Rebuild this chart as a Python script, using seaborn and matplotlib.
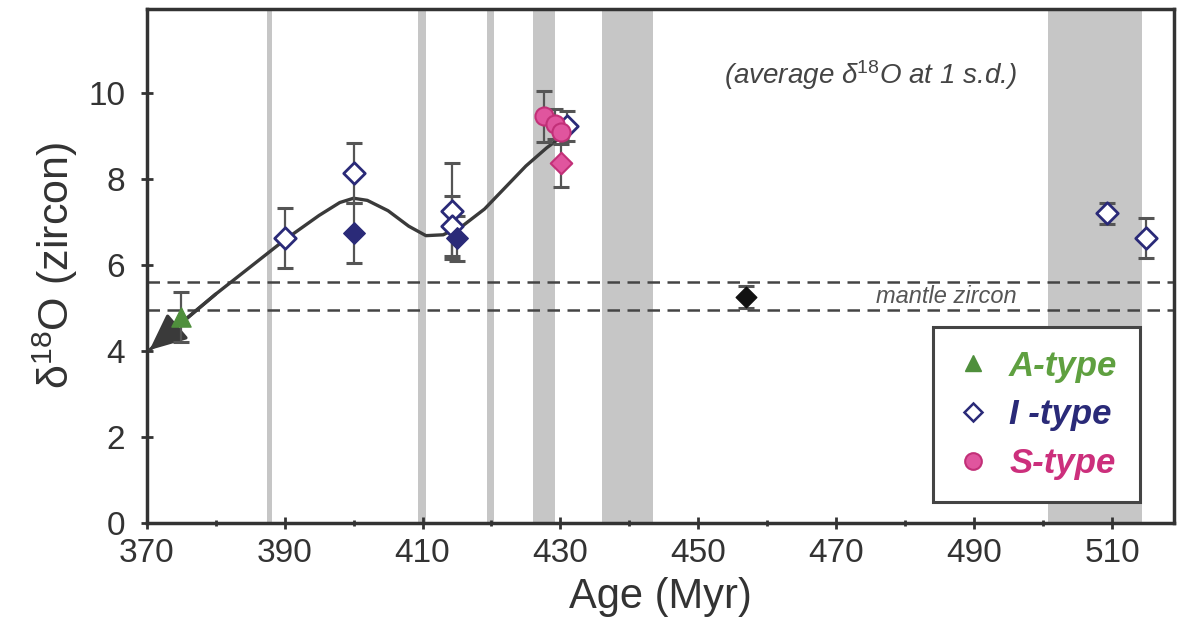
import matplotlib
matplotlib.use("Agg")
import matplotlib.pyplot as plt
from matplotlib.lines import Line2D
import seaborn as sns
import pandas as pd

# ---------------- data ----------------
# shaded age intervals (Myr)
band_start = [387.4, 409.4, 419.3, 426.0, 436.0, 500.7]
band_end = [388.1, 410.5, 420.4, 429.2, 443.4, 514.3]

# mantle zircon range
mantle_lo = 4.95
mantle_hi = 5.6

# trend curve (tip first)
trend_age = [370.4, 373, 375.5, 380, 385, 390, 395, 398, 400, 402, 405, 408,
             410.5, 413, 416, 419, 422, 425, 428, 429.5]
trend_d18o = [4.02, 4.38, 4.72, 5.32, 5.95, 6.58, 7.15, 7.45, 7.55, 7.50,
              7.26, 6.90, 6.68, 6.70, 6.93, 7.30, 7.80, 8.30, 8.72, 8.90]

# A-type
a_age = [375.0]
a_d18o = [4.78]
a_err = [0.58]

# I-type, open diamonds
i_open_age = [390.0, 400.0, 414.3, 414.3, 431.0, 509.3, 515.0]
i_open_d18o = [6.62, 8.13, 7.25, 6.90, 9.22, 7.20, 6.63]
i_open_err = [0.70, 0.70, 1.11, 0.70, 0.35, 0.25, 0.47]

# I-type, filled diamonds
i_fill_age = [400.0, 415.0]
i_fill_d18o = [6.75, 6.62]
i_fill_err = [0.70, 0.52]

# black diamond
k_age = [456.9]
k_d18o = [5.25]
k_err = [0.25]

# S-type
s_circ_age = [427.6, 429.2, 430.1]
s_circ_d18o = [9.45, 9.28, 9.10]
s_circ_err = [0.60, 0.35, 0.30]
s_dia_age = [430.1]
s_dia_d18o = [8.37]
s_dia_err = [0.55]

legend_labels = ["A-type", "I -type", "S-type"]

# ---------------- style ----------------
sns.set_theme(style="white")
plt.rcParams["font.family"] = ["Liberation Sans", "DejaVu Sans"]
plt.rcParams["mathtext.fontset"] = "custom"
plt.rcParams["mathtext.rm"] = "Liberation Sans"
plt.rcParams["mathtext.it"] = "Liberation Sans:italic"

GREEN = "#4f8f3c"
GREEN_TXT = "#5fa040"
NAVY = "#2a2a78"
PINK = "#e0559e"
PINK_E = "#c23078"
PINK_TXT = "#cc2f7c"
DARK = "#3a3a3a"
BAND = "#c6c6c6"
ERR = "#555555"

fig = plt.figure(figsize=(11.87, 6.39), dpi=100)
ax = fig.add_axes([0.1236, 0.1815, 0.8655, 0.8045])

for s, e in zip(band_start, band_end):
    ax.axvspan(s, e, color=BAND, lw=0, zorder=0)

for yv in (mantle_lo, mantle_hi):
    ax.axhline(yv, color="#444444", lw=1.8, ls=(0, (5, 3)), zorder=1)
ax.text(486, (mantle_lo + mantle_hi) / 2,
        "mantle zircon", style="italic", fontsize=17, color="#555555",
        ha="center", va="center", zorder=2)

# trend curve
trend = pd.DataFrame({"age": trend_age, "d18o": trend_d18o})
sns.lineplot(data=trend, x="age", y="d18o", ax=ax, color=DARK, lw=2.4,
             sort=False, zorder=3)
ax.annotate("", xy=(trend_age[0], trend_d18o[0]),
            xytext=(trend_age[3], trend_d18o[3]),
            arrowprops=dict(arrowstyle="-|>,head_length=1.9,head_width=0.85",
                            color=DARK, lw=2.4, shrinkA=0, shrinkB=0),
            zorder=4)

ekw = dict(fmt="none", ecolor=ERR, elinewidth=1.6, capsize=6, capthick=2.2, zorder=5)
ax.errorbar(a_age, a_d18o, yerr=a_err, **ekw)
ax.errorbar(i_open_age, i_open_d18o, yerr=i_open_err, **ekw)
ax.errorbar(i_fill_age, i_fill_d18o, yerr=i_fill_err, **ekw)
ax.errorbar(k_age, k_d18o, yerr=k_err, **ekw)
ax.errorbar(s_circ_age, s_circ_d18o, yerr=s_circ_err, **ekw)
ax.errorbar(s_dia_age, s_dia_d18o, yerr=s_dia_err, **ekw)

sns.scatterplot(x=a_age, y=a_d18o, ax=ax, marker="^", s=190, color=GREEN,
                edgecolor=GREEN, linewidth=1, zorder=6)
sns.scatterplot(x=i_open_age, y=i_open_d18o, ax=ax, marker="D", s=120,
                color="white", edgecolor=NAVY, linewidth=2, zorder=6)
sns.scatterplot(x=i_fill_age, y=i_fill_d18o, ax=ax, marker="D", s=120,
                color=NAVY, edgecolor=NAVY, linewidth=1, zorder=6)
sns.scatterplot(x=k_age, y=k_d18o, ax=ax, marker="D", s=110,
                color="#111111", edgecolor="#111111", linewidth=1, zorder=6)
sns.scatterplot(x=s_circ_age, y=s_circ_d18o, ax=ax, marker="o", s=170,
                color=PINK, edgecolor=PINK_E, linewidth=1.5, zorder=7)
sns.scatterplot(x=s_dia_age, y=s_dia_d18o, ax=ax, marker="D", s=120,
                color=PINK, edgecolor=PINK_E, linewidth=1.5, zorder=7)

ax.text(475, 10.42, "(average δ$^{18}$O at 1 s.d.)", style="italic",
        fontsize=20, color="#444444", ha="center", va="center", zorder=8)

# axes
ax.set_xlim(370, 519)
ax.set_ylim(0, 11.95)
ax.set_xticks(range(370, 511, 20))
ax.set_xticks(range(380, 520, 20), minor=True)
ax.set_yticks(range(0, 11, 2))
ax.tick_params(axis="both", which="major", direction="inout", length=9,
               width=2, color="#333333", labelsize=24, labelcolor="#333333",
               bottom=True, left=True)
ax.tick_params(axis="x", which="major", pad=6)
ax.tick_params(axis="y", which="major", pad=11)
ax.tick_params(axis="x", which="minor", direction="inout", length=5, width=2,
               color="#333333", bottom=True)
for sp in ax.spines.values():
    sp.set_color("#333333")
    sp.set_linewidth(2.5)
ax.set_xlabel("Age (Myr)", fontsize=30, color="#333333", labelpad=6)
ax.set_ylabel("δ$^{18}$O (zircon)", fontsize=31, color="#333333", labelpad=6)
ax.grid(False)

handles = [
    Line2D([], [], marker="^", ls="none", color=GREEN, markersize=12),
    Line2D([], [], marker="D", ls="none", markerfacecolor="white",
           markeredgecolor=NAVY, markeredgewidth=1.8, markersize=9),
    Line2D([], [], marker="o", ls="none", markerfacecolor=PINK,
           markeredgecolor=PINK_E, markeredgewidth=1.5, markersize=12),
]
leg = ax.legend(handles, legend_labels, loc="lower right",
                bbox_to_anchor=(0.967, 0.04), frameon=True, fancybox=False,
                prop=dict(size=25, weight="bold", style="italic"),
                handletextpad=0.55, labelspacing=0.45, borderpad=0.65,
                handlelength=1.0, borderaxespad=0)
leg.get_frame().set_edgecolor("#444444")
leg.get_frame().set_linewidth(2.2)
leg.get_frame().set_alpha(1)
for t, c in zip(leg.get_texts(), [GREEN_TXT, NAVY, PINK_TXT]):
    t.set_color(c)
leg.set_zorder(10)

fig.savefig("out.png", dpi=100)
